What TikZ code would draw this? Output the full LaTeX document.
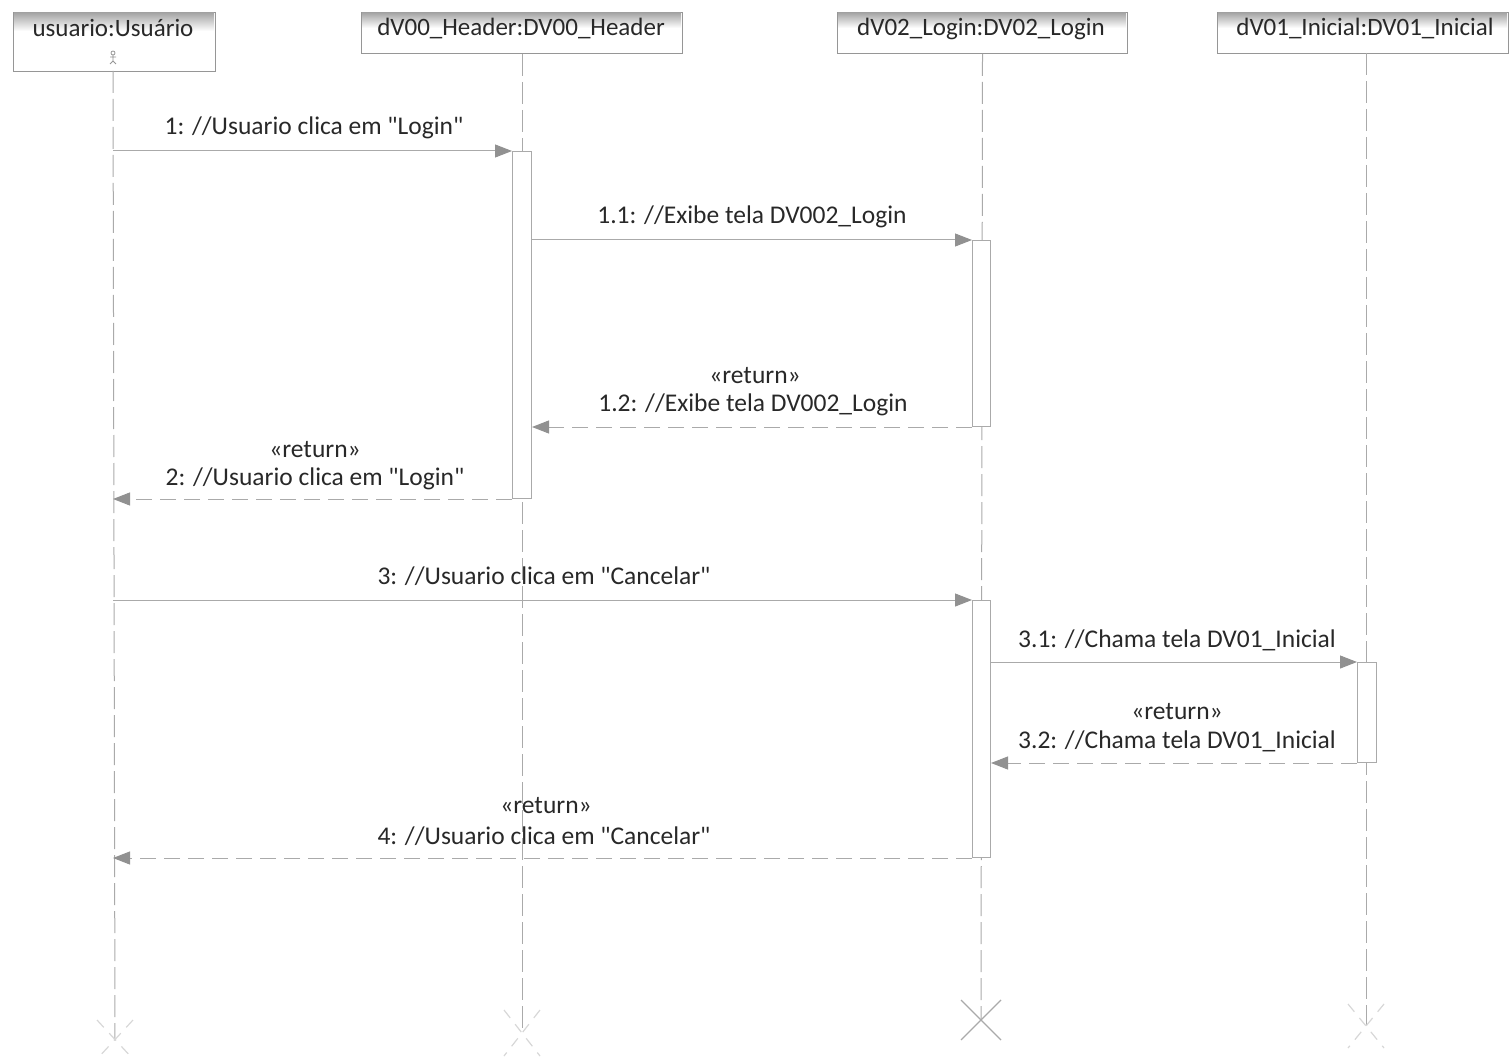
\documentclass[tikz,border=0pt]{standalone}
\usepackage{fontspec}
\setmainfont{Carlito}
\usetikzlibrary{arrows.meta}
\definecolor{lineg}{RGB}{170,170,170}
\definecolor{frameg}{RGB}{150,150,150}
\definecolor{tipg}{RGB}{145,145,145}
\definecolor{txt}{RGB}{40,40,40}
\definecolor{faint}{RGB}{215,215,215}
\newcommand{\qt}{\textquotedbl}
\begin{document}
\begin{tikzpicture}[x=1pt,y=-1pt,
  headbox/.style={draw=frameg, line width=1pt, fill=white, anchor=north west, inner sep=0},
  headtext/.style={text=txt, font=\fontsize{25}{29}\selectfont, inner sep=0},
  msgtext/.style={text=txt, font=\fontsize{25.5}{29}\selectfont, inner sep=0},
  lifeline/.style={draw=lineg, line width=1pt, dash pattern=on 22pt off 6pt},
  actbar/.style={draw=lineg, line width=1pt, fill=white, anchor=north west, inner sep=0, minimum width=19pt},
  callmsg/.style={draw=lineg, line width=1pt, -{Triangle[length=17pt,width=13pt,color=tipg]}},
  retmsg/.style={draw=lineg, line width=1pt, dash pattern=on 16pt off 8pt, -{Triangle[length=17pt,width=13pt,color=tipg]}},
  destroy/.style={draw=lineg, line width=1.2pt},
  faintx/.style={draw=faint, line width=1.2pt, dash pattern=on 10pt off 8pt},
]
\useasboundingbox (0,0) rectangle (1510,1059);

% lifeline heads
\node[headbox, minimum width=202pt, minimum height=59pt] (uBox) at (13,12) {};
\node[headbox, minimum width=321pt, minimum height=41pt] (hBox) at (361,12) {};
\node[headbox, minimum width=290pt, minimum height=41pt] (lBox) at (837,12) {};
\node[headbox, minimum width=291pt, minimum height=41pt] (iBox) at (1217,12) {};
\shade[top color=frameg!85, bottom color=white] (14,13) rectangle (214,31);
\shade[top color=frameg!85, bottom color=white] (362,13) rectangle (681,28);
\shade[top color=frameg!85, bottom color=white] (838,13) rectangle (1126,28);
\shade[top color=frameg!85, bottom color=white] (1218,13) rectangle (1507,28);
\node[headtext] (uName) at (113,28) {usuario:Usuário};
\node[headtext] (hName) at (521,29) {dV00\_Header:DV00\_Header};
\node[headtext] (lName) at (981,29) {dV02\_Login:DV02\_Login};
\node[headtext] (iName) at (1365,29) {dV01\_Inicial:DV01\_Inicial};

% small actor figure
\draw[frameg, line width=0.8pt] (113,53) circle (2pt);
\draw[frameg, line width=0.8pt] (113,55) -- (113,61) (110,57) -- (116,57) (113,61) -- (110,64) (113,61) -- (116,64);

% lifeline ends
\coordinate (uTop) at (113,71);
\coordinate (iTop) at (1366,53);
\coordinate (uEnd) at (115,1040);
\coordinate (hEnd) at (522,1032);
\coordinate (lEnd) at (981,1020);
\coordinate (iEnd) at (1366,1025);

\draw[lifeline] (uTop) -- (uEnd);
\draw[lifeline] (hBox.south) -- (hEnd);
\draw[lifeline] (lBox.south) -- (lEnd);
\draw[lifeline] (iTop) -- (iEnd);

% destruction marks
\draw[destroy] (961,1000) -- (1001,1040) (1001,1000) -- (961,1040);
\draw[faintx] (97,1020) -- (133,1059) (133,1020) -- (97,1059);
\draw[faintx] (504,1010) -- (540,1056) (540,1010) -- (504,1056);
\draw[faintx] (1348,1004) -- (1384,1048) (1384,1004) -- (1348,1048);

% activation bars
\node[actbar, minimum height=347pt] (hAct) at (512,151) {};
\node[actbar, minimum height=186pt, minimum width=18pt] (lAct1) at (972,240) {};
\node[actbar, minimum height=257pt, minimum width=18pt] (lAct2) at (972,600) {};
\node[actbar, minimum height=100pt] (iAct) at (1357,662) {};

% messages
\draw[callmsg] (uTop |- hAct.north) -- (hAct.north west);
\node[msgtext] (m1) at (314,128) {1: //Usuario clica em \qt Login\qt};

\draw[callmsg] (hAct.east |- lAct1.north) -- (lAct1.north west);
\node[msgtext] (m11) at (752,217) {1.1: //Exibe tela DV002\_Login};

\draw[retmsg] (lAct1.south west) -- (hAct.east |- lAct1.south);
\node[msgtext] (m12s) at (755,376) {«return»};
\node[msgtext] (m12) at (753,405) {1.2: //Exibe tela DV002\_Login};

\draw[retmsg] (hAct.south west) -- (uTop |- hAct.south);
\node[msgtext] (m2s) at (315,450) {«return»};
\node[msgtext] (m2) at (315,479) {2: //Usuario clica em \qt Login\qt};

\draw[callmsg] (uTop |- lAct2.north) -- (lAct2.north west);
\node[msgtext] (m3) at (544,576) {3: //Usuario clica em \qt Cancelar\qt};

\draw[callmsg] (lAct2.east |- iAct.north) -- (iAct.north west);
\node[msgtext] (m31) at (1177,640) {3.1: //Chama tela DV01\_Inicial};

\draw[retmsg] (iAct.south west) -- (lAct2.east |- iAct.south);
\node[msgtext] (m32s) at (1177,712) {«return»};
\node[msgtext] (m32) at (1177,741) {3.2: //Chama tela DV01\_Inicial};

\draw[retmsg] (lAct2.south west) -- (uTop |- lAct2.south);
\node[msgtext] (m4s) at (546,806) {«return»};
\node[msgtext] (m4) at (544,836) {4: //Usuario clica em \qt Cancelar\qt};
\end{tikzpicture}
\end{document}
